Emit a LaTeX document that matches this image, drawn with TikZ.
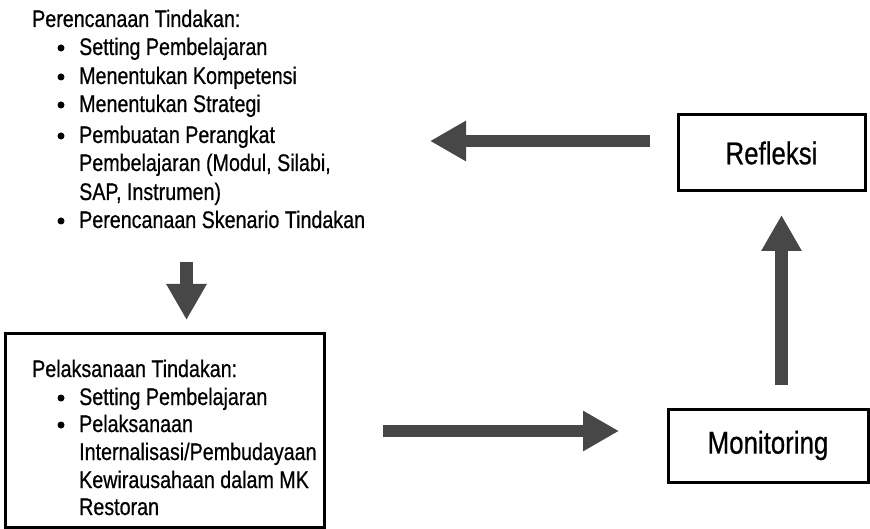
\documentclass[tikz,border=0pt]{standalone}
\usepackage{fontspec}
\setmainfont[FakeStretch=0.82,FakeBold=0.6]{Liberation Sans}
\usetikzlibrary{arrows.meta}
\begin{document}
\begin{tikzpicture}[x=1pt,y=-1pt,
  ln/.style={anchor=base west, inner sep=0pt, font=\fontsize{24}{28}\selectfont},
  box/.style={draw, line width=3pt, inner sep=0pt},
  big/.style={font=\fontsize{31.5}{36}\selectfont},
  fat/.style={line width=12.5pt, draw=black!72, -{Triangle[length=36pt,width=38pt]}},
  dot/.style={circle, fill=black, inner sep=0pt, minimum size=7pt}]
\useasboundingbox (0,0) rectangle (870,529);
% --- planning block
\node[ln] (p0) at (32,27) {Perencanaan Tindakan:};
\node[dot] (pb1) at (61,48) {};
\node[ln] (p1) at (79,55) {Setting Pembelajaran};
\node[dot] (pb2) at (61,77) {};
\node[ln] (p2) at (79,84) {Menentukan Kompetensi};
\node[dot] (pb3) at (61,105) {};
\node[ln] (p3) at (79,112) {Menentukan Strategi};
\node[dot] (pb4) at (61,136) {};
\node[ln] (p4) at (79,143) {Pembuatan Perangkat};
\node[ln] (p5) at (79,171) {Pembelajaran (Modul, Silabi,};
\node[ln] (p6) at (79,200) {SAP, Instrumen)};
\node[dot] (pb5) at (61,221) {};
\node[ln] (p7) at (79,228) {Perencanaan Skenario Tindakan};
% --- action box
\node[box, minimum width=319pt, minimum height=194pt] (act) at (164.5,430) {};
\node[ln] (a0) at (32,377) {Pelaksanaan Tindakan:};
\node[dot] (ab1) at (61,398) {};
\node[ln] (a1) at (79,405) {Setting Pembelajaran};
\node[dot] (ab2) at (61,425) {};
\node[ln] (a2) at (79,432) {Pelaksanaan};
\node[ln] (a3) at (79,460) {Internalisasi/Pembudayaan};
\node[ln] (a4) at (79,488) {Kewirausahaan dalam MK};
\node[ln] (a5) at (79,515) {Restoran};
% --- monitoring and reflection
\node[box, big, minimum width=200pt, minimum height=73pt] (mon) at (768,445.5) {Monitoring};
\node[box, big, minimum width=187pt, minimum height=76pt] (ref) at (771.5,153) {Refleksi};
% --- arrows
\coordinate (r1) at (650,141);
\coordinate (r2) at (430,141);
\coordinate (d1) at (186.5,262);
\coordinate (d2) at (186.5,320);
\coordinate (m1) at (383,431);
\coordinate (m2) at (619,431);
\coordinate (u1) at (781.5,385);
\coordinate (u2) at (781.5,215);
\draw[fat] (r1) -- (r2);
\draw[fat] (d1) -- (d2);
\draw[fat] (m1) -- (m2);
\draw[fat] (u1) -- (u2);
\end{tikzpicture}
\end{document}
